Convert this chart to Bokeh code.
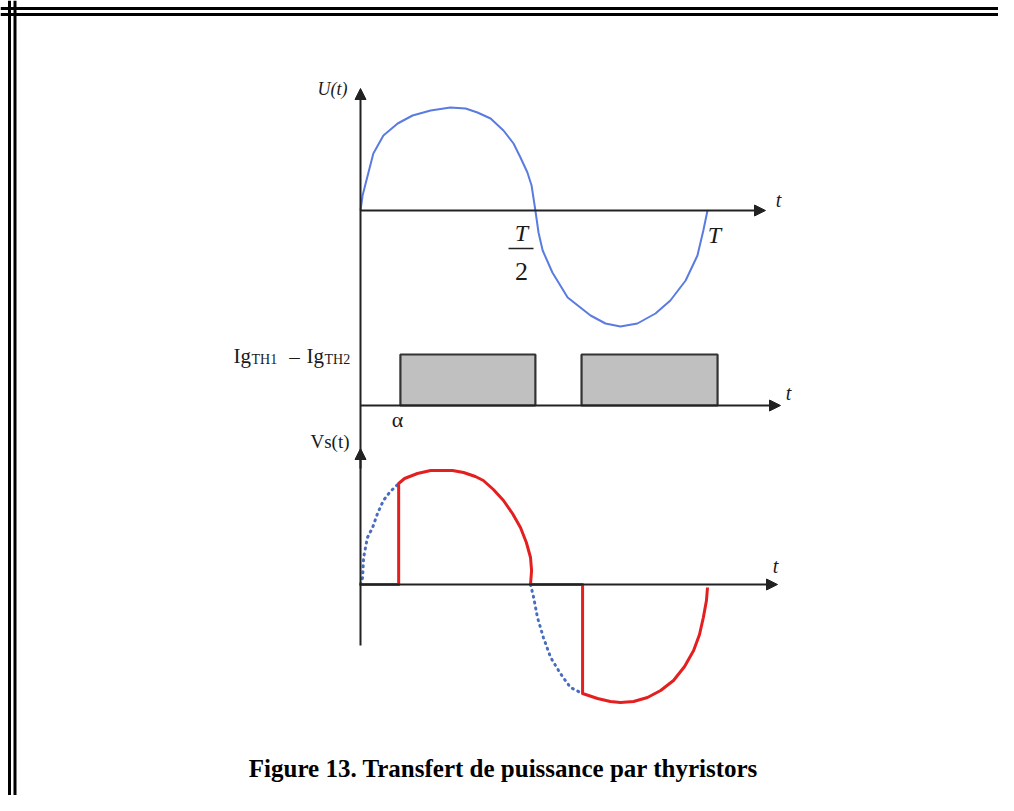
from bokeh.plotting import figure
from bokeh.models import Range1d, Span, Arrow, NormalHead
from bokeh.core.properties import value
from bokeh.embed import file_html
from bokeh.resources import INLINE

# ---------------- data (t in fractions of the period T) ----------------
# Supply voltage U(t)
u_t = [0.0, 0.006, 0.017, 0.037, 0.066, 0.107, 0.150, 0.202, 0.259, 0.303, 0.337, 0.375,
       0.412, 0.441, 0.461, 0.481, 0.493, 0.504, 0.513, 0.525, 0.553, 0.597, 0.663,
       0.706, 0.749, 0.798, 0.850, 0.893, 0.937, 0.971, 0.988, 1.0]
u_v = [0.0, 0.15, 0.30, 0.57, 0.75, 0.87, 0.95, 1.00, 1.03, 1.02, 0.98, 0.92,
       0.80, 0.67, 0.53, 0.38, 0.25, 0.0, -0.22, -0.40, -0.62, -0.87, -1.05,
       -1.13, -1.16, -1.13, -1.03, -0.90, -0.70, -0.45, -0.20, 0.0]

# Gate pulses Ig_TH1 - Ig_TH2
pulse_on = [0.115, 0.637]
pulse_off = [0.504, 1.029]
pulse_amp = [0.51, 0.51]

# Output voltage Vs(t)
vs_t = [0.0, 0.110, 0.110, 0.127, 0.164, 0.202, 0.231, 0.265, 0.297, 0.331, 0.354,
        0.383, 0.412, 0.438, 0.461, 0.478, 0.490, 0.493, 0.490, 0.640, 0.640,
        0.683, 0.720, 0.749, 0.787, 0.827, 0.865, 0.902, 0.934, 0.960, 0.977,
        0.988, 0.997, 1.0]
vs_v = [0.0, 0.0, 1.01, 1.06, 1.11, 1.14, 1.14, 1.14, 1.12, 1.08, 1.04,
        0.95, 0.84, 0.71, 0.57, 0.42, 0.27, 0.14, 0.0, 0.0, -1.09,
        -1.14, -1.17, -1.18, -1.17, -1.13, -1.06, -0.96, -0.82, -0.66, -0.50,
        -0.33, -0.16, -0.03]

# Blocked parts of the sine (dotted)
blk1_t = [0.0, 0.006, 0.009, 0.020, 0.035, 0.049, 0.066, 0.086, 0.110]
blk1_v = [0.0, 0.07, 0.27, 0.47, 0.57, 0.71, 0.84, 0.93, 1.01]
blk2_t = [0.490, 0.499, 0.510, 0.527, 0.548, 0.576, 0.605, 0.634]
blk2_v = [0.0, -0.13, -0.33, -0.53, -0.73, -0.89, -1.03, -1.08]

caption = "Figure 13. Transfert de puissance par thyristors"

# ---------------- figure ----------------
W, H = 998, 795
p = figure(width=W, height=H, x_range=Range1d(0, W), y_range=Range1d(H, 0),
           output_backend="svg", toolbar_location=None,
           x_axis_type=None, y_axis_type=None, min_border=0,
           outline_line_color=None, background_fill_color="white",
           border_fill_color="white")

x0, xT = 360, 707          # pixel positions of t=0 and t=T
ppu = 100.0                # pixels per amplitude unit
scale = xT - x0
p.extra_x_ranges = {"t": Range1d(-x0 / scale, (W - x0) / scale)}
zeros = {"top": 210, "mid": 405, "bot": 584}
p.extra_y_ranges = {k: Range1d(-(H - z) / ppu, z / ppu) for k, z in zeros.items()}

# double frame
for loc in [9, 14.5]:
    p.add_layout(Span(location=loc, dimension="height", line_color="black", line_width=3))
for loc in [8, 14]:
    p.add_layout(Span(location=loc, dimension="width", line_color="black", line_width=3))

ax_col = "#222222"

def arrow(xs, ys, xe, ye):
    p.add_layout(Arrow(end=NormalHead(size=11, fill_color=ax_col, line_color=ax_col),
                       x_start=xs, y_start=ys, x_end=xe, y_end=ye,
                       line_color=ax_col, line_width=2))

arrow(x0, 645, x0, 88)
arrow(x0, 468, x0, 448)
arrow(x0, zeros["top"], 765, zeros["top"])
arrow(x0, zeros["mid"], 780, zeros["mid"])
arrow(x0, zeros["bot"], 777, zeros["bot"])

# waveforms
p.line(u_t, u_v, x_range_name="t", y_range_name="top",
       line_color="#5a7be0", line_width=2, line_join="round")

p.quad(left=pulse_on, right=pulse_off, bottom=[0, 0], top=pulse_amp,
       x_range_name="t", y_range_name="mid",
       fill_color="#c0c0c0", line_color="#333333", line_width=2.2)

for bt, bv in [(blk1_t, blk1_v), (blk2_t, blk2_v)]:
    p.line(bt, bv, x_range_name="t", y_range_name="bot",
           line_color="#4a6cc0", line_width=3, line_dash="1 5", line_cap="round")
p.line(vs_t, vs_v, x_range_name="t", y_range_name="bot",
       line_color="#e41f1f", line_width=3, line_join="round")

serif = value("Liberation Serif")

def label(x, y, txt, size, style="normal", align="center", baseline="middle", color="#1a1a1a"):
    p.text(x=[x], y=[y], text=[txt], text_font=serif, text_font_size=f"{size}px",
           text_font_style=style, text_align=align, text_baseline=baseline,
           text_color=color)

label(347, 88, "U(t)", 18, "italic", align="right")
label(778, 199, "t", 20, "italic")
label(788, 392, "t", 20, "italic")
label(775, 565, "t", 20, "italic")
label(521, 232, "T", 24, "italic")
p.segment(x0=[508], y0=[248], x1=[533], y1=[248], line_color="#222222", line_width=1.5)
label(521, 271, "2", 26)
label(714, 234, "T", 24, "italic")
label(397, 419, "α", 22)
label(349, 441, "Vs(t)", 19, align="right")

# Ig_TH1 - Ig_TH2
label(233, 355, "Ig", 21, align="left")
label(251, 359, "TH1", 14, align="left")
label(294, 356, "–", 21, align="center")
label(306, 355, "Ig", 21, align="left")
label(324, 359, "TH2", 14, align="left")

label(503, 768, caption, 25, "bold", color="black")

open("out.html", "w").write(file_html(p, INLINE))
